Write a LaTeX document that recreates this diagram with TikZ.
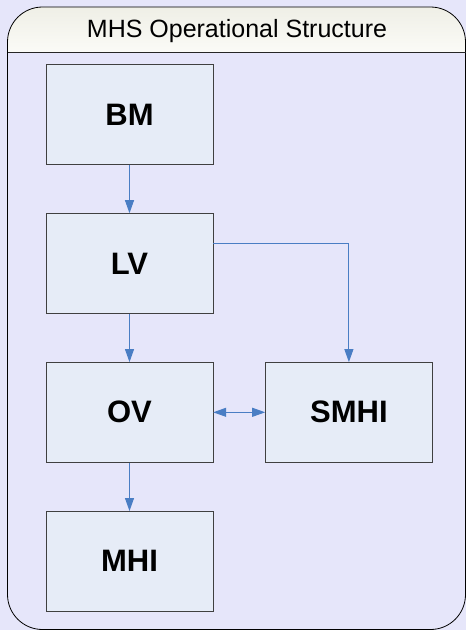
\documentclass[tikz,border=0pt]{standalone}
\usepackage{fontspec}
\setmainfont{Liberation Sans}
\usetikzlibrary{positioning,arrows.meta}
\definecolor{lav}{HTML}{E6E6FA}
\definecolor{hdrtop}{HTML}{EFEFE6}
\definecolor{hdrbot}{HTML}{FBFBF7}
\definecolor{boxfill}{HTML}{E6ECF7}
\definecolor{linkblue}{HTML}{4A7EC4}
\tikzset{>={Triangle[length=13pt,width=9pt]},
unit/.style={draw=black!75,fill=boxfill,minimum width=167pt,minimum height=100pt,font=\fontsize{31}{31}\selectfont\bfseries},
link/.style={draw=linkblue,line width=1pt,->}}
\begin{document}
\begin{tikzpicture}[x=1pt,y=-1pt,node distance=48.5pt]
\fill[lav](0,0)rectangle(466,630);
\useasboundingbox(0,0)rectangle(466,630);
% frame with header band
\begin{scope}
\clip[rounded corners=35pt](7.5,7)rectangle(465.5,629.5);
\shade[top color=hdrtop,bottom color=hdrbot](7.5,7)rectangle(465.5,52);
\end{scope}
\draw[line width=0.8pt,rounded corners=35pt](7.5,7)rectangle(465.5,629.5);
\draw[line width=0.9pt,black!85](7.5,52)--(465.5,52);
\node[anchor=base,font=\fontsize{25}{25}\selectfont](title)at(237,37){MHS Operational Structure};
% units
\node[unit](BM)at(129.5,114.5){BM};
\node[unit,below=of BM](LV){LV};
\node[unit,below=of LV](OV){OV};
\node[unit,below=of OV](MHI){MHI};
\node[unit,right=52pt of OV](SMHI){SMHI};
% links
\draw[link](BM)--(LV);
\draw[link](LV)--(OV);
\draw[link](OV)--(MHI);
\draw[link]([yshift=-30pt]LV.north east)-|(SMHI);
\draw[link,<->](OV)--(SMHI);
\end{tikzpicture}
\end{document}
